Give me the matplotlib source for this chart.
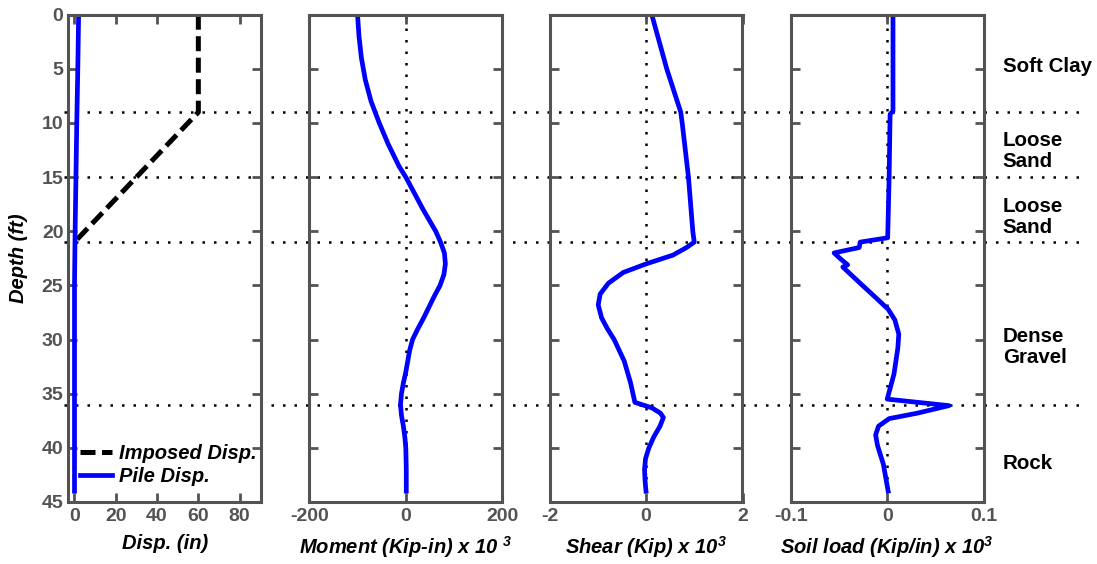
import matplotlib
matplotlib.use('Agg')
import matplotlib.pyplot as plt
from matplotlib.lines import Line2D

plt.rcParams['font.family'] = ['Liberation Sans', 'DejaVu Sans']
plt.rcParams['font.weight'] = 'bold'
plt.rcParams['mathtext.fontset'] = 'custom'
plt.rcParams['mathtext.rm'] = 'Liberation Sans:bold:italic'
plt.rcParams['mathtext.it'] = 'Liberation Sans:bold:italic'

# ---- data ----
layer_depths = [9, 15, 21, 36]
layer_names = ['Soft Clay', 'Loose\nSand', 'Loose\nSand', 'Dense\nGravel', 'Rock']
layer_label_depth = [4.8, 12.6, 18.7, 30.7, 41.4]

imposed_depth = [0, 9, 21]
imposed_disp = [60, 60, 0]

pile_depth = [0, 5, 10, 15, 20, 25, 30, 35, 40, 44]
pile_disp = [2.0, 1.6, 1.1, 0.7, 0.3, 0.0, 0.0, 0.0, 0.0, 0.0]

moment_depth = [0, 2, 4, 6, 8, 10, 12, 14, 15, 16, 18, 20, 21, 22, 23, 24, 25, 26,
                27, 28, 29, 30, 31, 32, 33, 34, 35, 36, 37, 38, 39, 40, 42, 44]
moment = [-100, -97, -92, -84, -72, -55, -36, -14, 0, 12, 36, 62, 72, 80, 82, 79, 71, 59,
          48, 37, 25, 14, 8, 4, 0, -5, -9, -11, -9, -5, -2, 0, 1, 1]

shear_depth = [0, 5, 9, 10, 15, 20, 21, 21.5, 22.2, 23, 23.8, 24.8, 25.8, 26.8, 28,
               29, 30, 32, 34, 35, 35.8, 36.3, 36.8, 37.2, 38, 39, 40, 41, 42, 43, 44]
shear = [0.12, 0.43, 0.72, 0.75, 0.88, 0.97, 1.0, 0.84, 0.56, 0.01, -0.47, -0.78, -0.95,
         -0.99, -0.92, -0.8, -0.66, -0.45, -0.32, -0.27, -0.23, 0.12, 0.3, 0.36, 0.29,
         0.16, 0.06, -0.01, -0.03, -0.02, 0.0]

soil_depth = [0, 8.9, 9.2, 15, 20.6, 21.0, 21.5, 22.0, 22.5, 23.1, 23.3, 24.8, 26.2, 27.2,
              28.2, 29.5, 30.8, 33.2, 35.5, 36.1, 36.8, 37.3, 38.0, 38.8, 39.8, 41.5, 44]
soil_load = [0.006, 0.006, 0.003, 0.002, 0.0005, -0.028, -0.029, -0.055, -0.049, -0.041,
             -0.046, -0.028, -0.011, 0.001, 0.008, 0.012, 0.011, 0.007, 0.0, 0.064, 0.031,
             0.002, -0.009, -0.012, -0.01, -0.004, 0.001]

xlabels = ['Disp. (in)', 'Moment (Kip-in) x 10 $^3$', 'Shear (Kip) x 10$^3$',
           'Soil load (Kip/in) x 10$^3$']
xlims = [(-3, 90.5), (-200, 200), (-2, 2), (-0.1, 0.1)]
xticks = [[0, 20, 40, 60, 80], [-200, 0, 200], [-2, 0, 2], [-0.1, 0, 0.1]]
xticklabels = [['0', '20', '40', '60', '80'], ['-200', '0', '200'], ['-2', '0', '2'],
               ['-0.1', '0', '0.1']]

W, H = 1097, 564
top_px, bot_px = 14.7, 502.0
fig = plt.figure(figsize=(W / 100, H / 100), dpi=100)
grey = '#535353'
lefts = [68.3, 309.3, 549.5, 790.7]
dots = (0, (1, 3.6))
axes = []
for i, l in enumerate(lefts):
    ax = fig.add_axes([l / W, (H - bot_px) / H, 193 / W, (bot_px - top_px) / H])
    ax.set_facecolor('none')
    ax.set_ylim(45, 0)
    ax.set_xlim(*xlims[i])
    ax.set_xticks(xticks[i])
    ax.set_xticklabels(xticklabels[i])
    ax.set_yticks(range(0, 46, 5))
    ax.tick_params(direction='in', top=True, right=True, length=6.5, width=2,
                   color=grey, labelcolor=grey, labelsize=14)
    ax.tick_params(axis='x', pad=4.5)
    ax.tick_params(axis='y', pad=3.5)
    for s in ax.spines.values():
        s.set_color(grey)
        s.set_linewidth(2.2)
    if i > 0:
        ax.set_yticklabels([])
        ax.axvline(0, color='black', lw=1.8, ls=dots, zorder=1)
    ax.set_xlabel(xlabels[i], fontsize=14.5, fontstyle='italic', fontweight='bold')
    ax.xaxis.set_label_coords(0.5, -0.066)
    axes.append(ax)

ax1 = axes[0]
ax1.plot(imposed_disp, imposed_depth, color='black', lw=3.6, ls=(0, (3.0, 1.3)),
         label='Imposed Disp.')
ax1.plot(pile_disp, pile_depth, color='blue', lw=3.4, label='Pile Disp.')
ax1.set_ylabel('Depth (ft)', fontsize=14.5, fontstyle='italic', fontweight='bold')
ax1.yaxis.set_label_coords(-0.21, 0.5)
ax1.legend(loc='lower left', bbox_to_anchor=(0.02, 0.016), frameon=False,
           prop={'size': 14.5, 'style': 'italic', 'weight': 'bold'},
           handlelength=1.6, handletextpad=0.35, labelspacing=0.2, borderaxespad=0.0)

axes[1].plot(moment, moment_depth, color='blue', lw=3.4)
axes[2].plot(shear, shear_depth, color='blue', lw=3.4)
axes[3].plot(soil_load, soil_depth, color='blue', lw=3.4)

# layer boundaries drawn across all panels
px_per_ft = (bot_px - top_px) / 45
for d in layer_depths:
    yf = (H - top_px - d * px_per_ft) / H
    fig.add_artist(Line2D([64 / W, 1082 / W], [yf, yf], transform=fig.transFigure,
                          color='black', lw=1.8, ls=dots, zorder=-1))

for name, d in zip(layer_names, layer_label_depth):
    fig.text(1002.7 / W, (H - top_px - d * px_per_ft) / H, name, fontsize=14.8,
             fontweight='bold', ha='left', va='center', linespacing=1.1)

fig.savefig('out.png', dpi=100)
